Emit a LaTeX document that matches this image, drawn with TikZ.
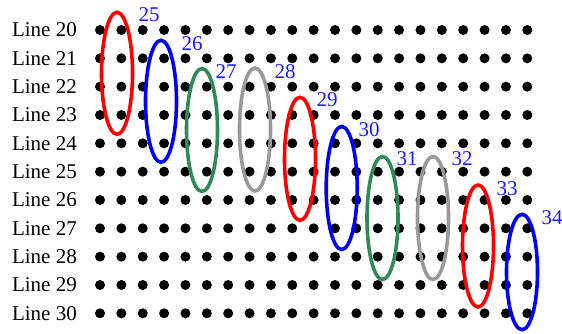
\documentclass[tikz,border=0pt]{standalone}
\usepackage{fontspec}
\setmainfont{Liberation Serif}
\usetikzlibrary{positioning}
\definecolor{RingRed}{HTML}{FF0000}
\definecolor{RingBlue}{HTML}{0000FF}
\definecolor{RingGreen}{HTML}{2E8B57}
\definecolor{RingGray}{HTML}{999999}
\definecolor{NumBlue}{HTML}{1A1AFF}

\begin{document}
\begin{tikzpicture}[
    x=1pt,y=-1pt,
    dot/.style={fill=black},
    lineno/.style={anchor=east,inner sep=0pt,font=\fontsize{21}{25}\selectfont},
    ring/.style={line width=3.6pt},
    num/.style={inner sep=0pt,text=NumBlue,font=\fontsize{21}{25}\selectfont}
  ]
  \useasboundingbox (0,0) rectangle (562,333);
  % rows of dots, one label per line
  \foreach \r in {0,...,10} {
    \pgfmathtruncatemacro{\lno}{20+\r}
    \node[lineno] (line\lno) at (77,30+28.33*\r) {Line \lno};
    \foreach \c in {0,...,20}
      \fill[dot] (100+21.365*\c,30+28.33*\r) circle[radius=5];
  }
  % rings and their numbers
  \foreach \cx/\cy/\ry/\col/\lx/\ly/\n in {
      117/73.3/61/RingRed/149/15/25,
      161/101.3/61/RingBlue/192/44/26,
      202/130/61.5/RingGreen/226/72/27,
      255/129.5/61.5/RingGray/285/72/28,
      300/158.8/61.5/RingRed/327/100/29,
      341.7/188/61.5/RingBlue/369/130/30,
      382.5/218/61.5/RingGreen/407/159/31,
      433/218/61.5/RingGray/462/159/32,
      478/246/61/RingRed/507/189/33,
      522/272/57.7/RingBlue/552/218/34} {
    \draw[ring,draw=\col] (\cx,\cy) ellipse[x radius=15.5,y radius=\ry];
    \node[num] (num\n) at (\lx,\ly) {\n};
  }
\end{tikzpicture}
\end{document}
